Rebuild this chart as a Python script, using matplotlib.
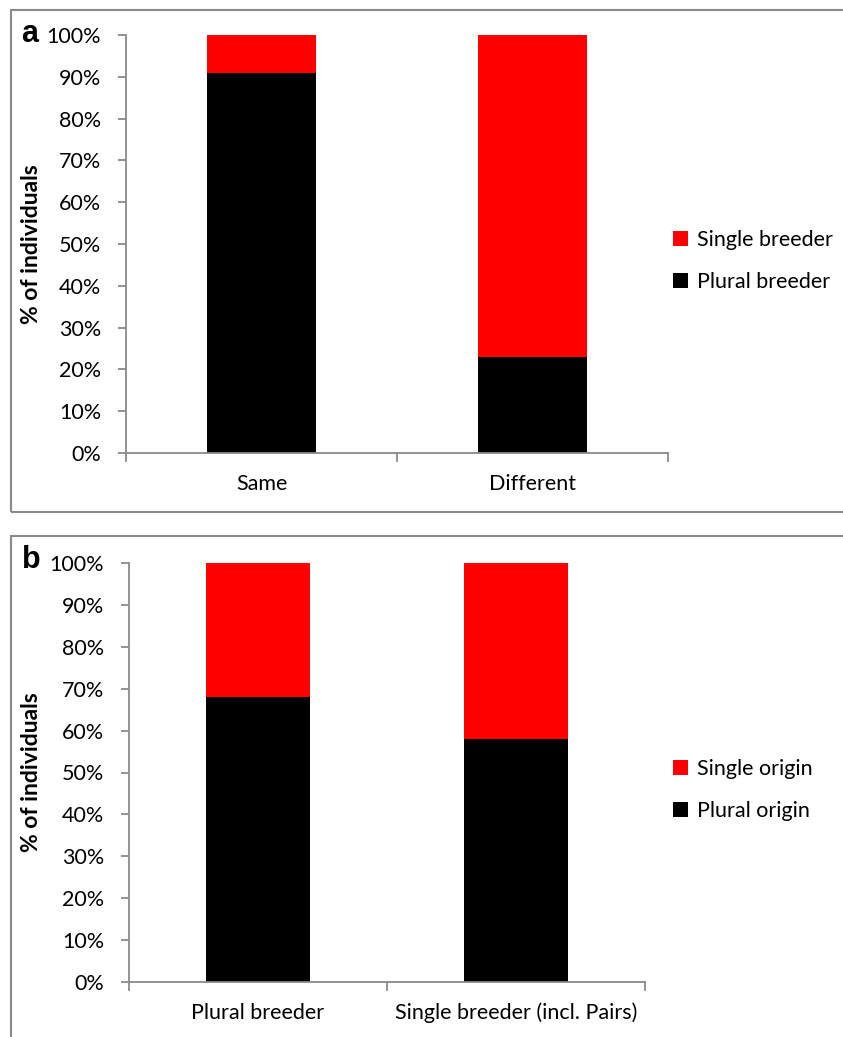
import matplotlib
matplotlib.use("Agg")
import matplotlib.pyplot as plt
from matplotlib.patches import Rectangle, Patch

# ---- data -------------------------------------------------------------
cats_a = ["Same", "Different"]
plural_a = [91, 23]           # % plural breeder
single_a = [9, 77]            # % single breeder
legend_a = ["Single breeder", "Plural breeder"]

cats_b = ["Plural breeder", "Single breeder (incl. Pairs)"]
plural_b = [68, 58]           # % plural origin
single_b = [32, 42]           # % single origin
legend_b = ["Single origin", "Plural origin"]

yticks = list(range(0, 101, 10))
ytick_labels = [f"{v}%" for v in yticks]

RED = "#ff0000"
BLACK = "#000000"
GREY = "#8a8a8a"
FS = 15.5

plt.rcParams["font.family"] = ["Lato", "DejaVu Sans"]

W, H = 843, 1037
fig = plt.figure(figsize=(W / 100, H / 100), dpi=100)


def px(x0, y0, x1, y1):
    """Pixel box (left, top, right, bottom) -> figure fraction rect."""
    return [x0 / W, 1 - y1 / H, (x1 - x0) / W, (y1 - y0) / H]


def panel(rect, cats, plural, single, labels, legend_y):
    ax = fig.add_axes(rect)
    x = range(len(cats))
    ax.bar(x, plural, width=0.4, color=BLACK, zorder=2)
    ax.bar(x, single, width=0.4, bottom=plural, color=RED, zorder=2)
    ax.set_xlim(-0.5, len(cats) - 0.5)
    ax.set_ylim(0, 100)
    ax.set_yticks(yticks)
    ax.set_yticklabels(ytick_labels, fontsize=FS)
    ax.set_xticks(list(x))
    ax.set_xticklabels(cats, fontsize=FS)
    ax.tick_params(axis="x", length=0, pad=15)
    ax.tick_params(axis="y", length=6, width=1.3, color=GREY, pad=12)
    # category separator ticks on the x axis
    for b in [i - 0.5 for i in range(len(cats) + 1)]:
        ax.plot([b, b], [0, -1.9], color=GREY, lw=1.3, clip_on=False, zorder=1)
    for s in ["top", "right"]:
        ax.spines[s].set_visible(False)
    for s in ["left", "bottom"]:
        ax.spines[s].set_color(GREY)
        ax.spines[s].set_linewidth(1.3)
    handles = [Patch(facecolor=RED), Patch(facecolor=BLACK)]
    fig.legend(handles, labels, loc="center left",
               bbox_to_anchor=(673 / W, 1 - legend_y / H),
               frameon=False, fontsize=FS, handlelength=0.7,
               handleheight=0.7, handletextpad=0.4, labelspacing=1.0,
               borderpad=0, borderaxespad=0)
    return ax


ax_a = panel(px(126, 35, 668, 453), cats_a, plural_a, single_a, legend_a, 261)
ax_b = panel(px(129, 563, 645, 982), cats_b, plural_b, single_b, legend_b, 790)

# panel frames
for (x0, y0, x1, y1) in [(11, 10, 845, 512), (11, 536, 845, 1045)]:
    fig.patches.append(Rectangle((x0 / W, 1 - y1 / H), (x1 - x0) / W, (y1 - y0) / H,
                                 transform=fig.transFigure, fill=False,
                                 edgecolor=GREY, lw=1.5, zorder=0))

# panel letters and axis titles
fig.text(30 / W, 1 - 34 / H, "a", fontsize=22, fontweight="bold",
         family="Liberation Sans", ha="center", va="center")
fig.text(31 / W, 1 - 560 / H, "b", fontsize=22, fontweight="bold",
         family="Liberation Sans", ha="center", va="center")
fig.text(32 / W, 1 - 244 / H, "% of individuals", fontsize=16.5, fontweight="bold",
         rotation=90, ha="center", va="center")
fig.text(32 / W, 1 - 772 / H, "% of individuals", fontsize=16.5, fontweight="bold",
         rotation=90, ha="center", va="center")

fig.savefig("out.png", dpi=100, facecolor="white")
